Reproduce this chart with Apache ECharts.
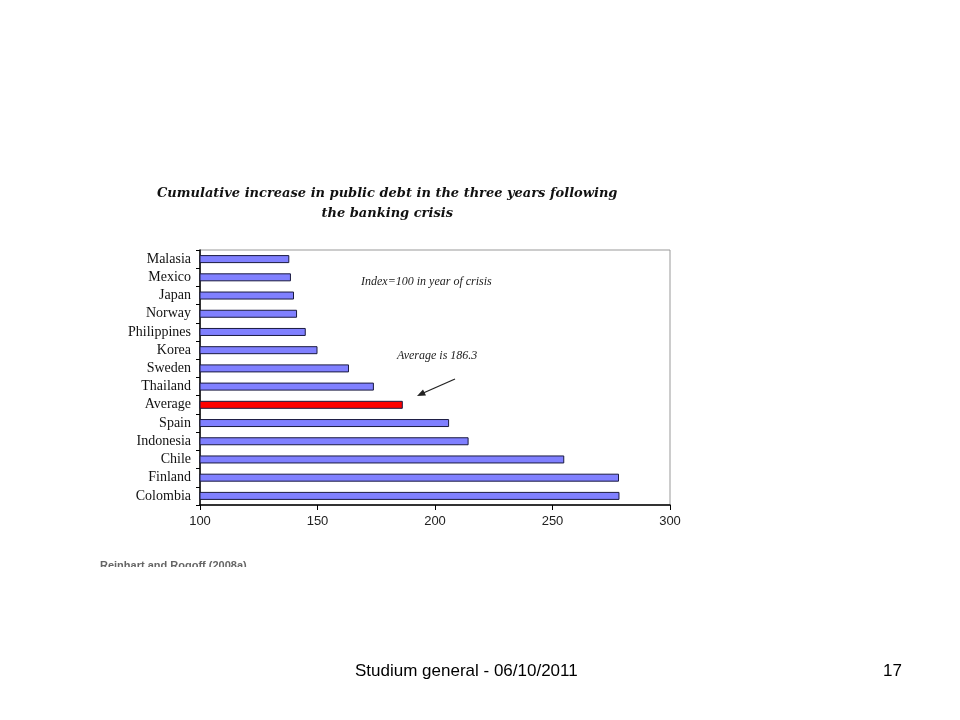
<!DOCTYPE html>
<html>
<head>
<meta charset="utf-8">
<script src="https://cdn.jsdelivr.net/npm/echarts@6/dist/echarts.min.js"></script>
<style>html,body{margin:0;padding:0;background:#fff;}#c{width:960px;height:720px;}</style>
</head>
<body>
<div id="c"></div>
<script>
const categories = ['Malasia','Mexico','Japan','Norway','Philippines','Korea','Sweden','Thailand','Average','Spain','Indonesia','Chile','Finland','Colombia'];
const values = [138, 138.7, 140, 141.3, 145, 150, 163.4, 174, 186.3, 206, 214.3, 255, 278.3, 278.5];
const highlight = 'Average';
const xTicks = [100, 150, 200, 250, 300];

const chart = echarts.init(document.getElementById('c'));
chart.setOption({
  backgroundColor: '#fff',
  animation: false,
  grid: { left: 200, right: 290, top: 250, bottom: 215, show: true, borderColor: '#999', borderWidth: 1, backgroundColor: 'transparent' },
  xAxis: {
    type: 'value', min: xTicks[0], max: xTicks[xTicks.length-1], interval: 50,
    axisLine: { show: true, lineStyle: { color: '#000', width: 1.5 } },
    axisTick: { show: true, length: 5, lineStyle: { color: '#000' } },
    splitLine: { show: false },
    axisLabel: { color: '#222', fontFamily: 'Liberation Sans', fontSize: 13, margin: 10 }
  },
  yAxis: {
    type: 'category', data: categories, inverse: true,
    axisLine: { show: true, lineStyle: { color: '#000', width: 1.5 } },
    axisTick: { show: true, length: 4, lineStyle: { color: '#000' } },
    axisLabel: { color: '#111', fontFamily: 'Liberation Serif', fontSize: 14, margin: 9 }
  },
  series: [{
    type: 'bar', barWidth: 8,
    data: values.map((v, i) => ({
      value: v,
      itemStyle: { color: categories[i] === highlight ? '#ff0000' : '#8080ff' }
    })),
    itemStyle: { borderColor: '#1a1a40', borderWidth: 1 }
  }],
  graphic: [
    { type: 'text', left: 157, top: 184, style: { text: 'Cumulative increase in public debt in the three years following\nthe banking crisis', fill: '#111', font: 'italic bold 13px "DejaVu Serif"', textAlign: 'center', lineHeight: 20 } },
    { type: 'text', left: 361, top: 276, style: { text: 'Index=100 in year of crisis', fill: '#222', font: 'italic 12px "Liberation Serif"' } },
    { type: 'text', left: 397, top: 350, style: { text: 'Average is 186.3', fill: '#222', font: 'italic 12px "Liberation Serif"' } },
    { type: 'line', shape: { x1: 455, y1: 379, x2: 421, y2: 394 }, style: { stroke: '#222', lineWidth: 1.3 } },
    { type: 'polygon', shape: { points: [[417, 396], [423, 389.5], [426, 395.5]] }, style: { fill: '#222' } },
    { type: 'text', left: 100, top: 560, style: { text: 'Reinhart and Rogoff (2008a)', fill: '#666', font: 'bold 11px "Liberation Sans"' } },
    { type: 'rect', left: 95, top: 567, shape: { width: 220, height: 12 }, style: { fill: '#fff' } },
    { type: 'text', left: 355, top: 663, style: { text: 'Studium general - 06/10/2011', fill: '#000', font: '17px "Liberation Sans"' } },
    { type: 'text', left: 883, top: 663, style: { text: '17', fill: '#000', font: '17px "Liberation Sans"' } }
  ]
});
</script>
</body>
</html>
